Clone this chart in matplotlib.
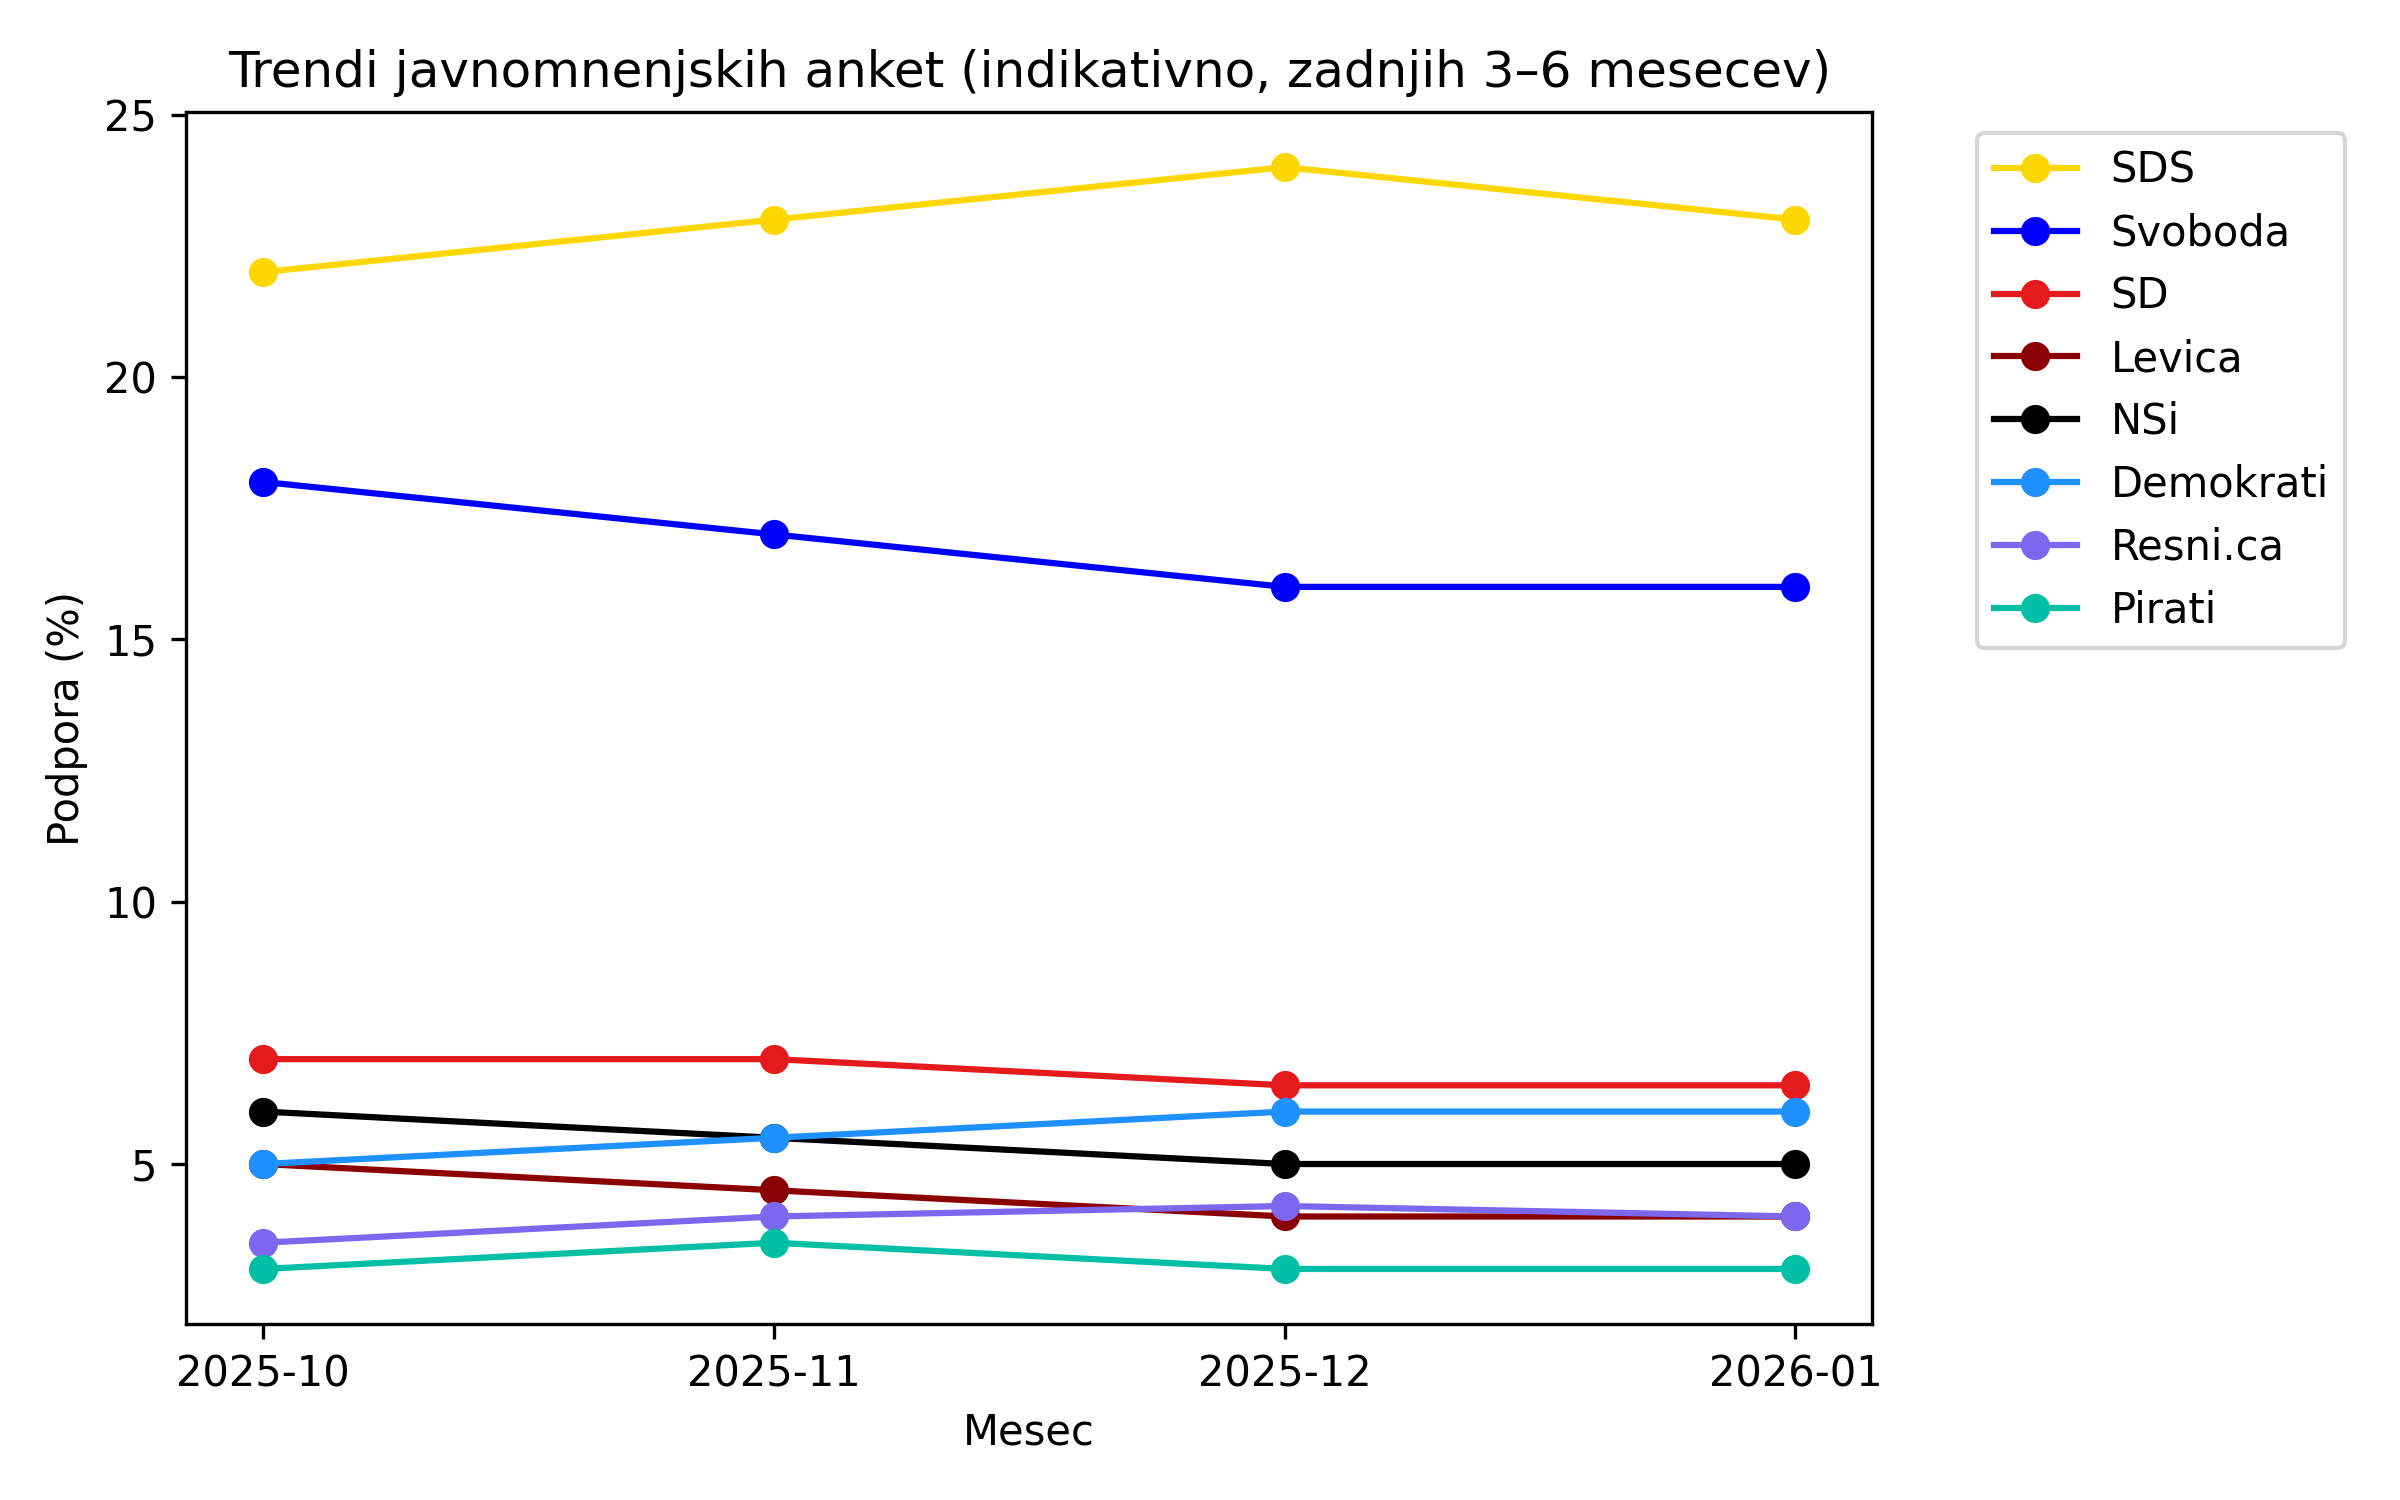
import matplotlib
matplotlib.use("Agg")
import matplotlib.pyplot as plt

months = ["2025-10", "2025-11", "2025-12", "2026-01"]
parties = ["SDS", "Svoboda", "SD", "Levica", "NSi", "Demokrati", "Resni.ca", "Pirati"]
sds = [22, 23, 24, 23]
svoboda = [18, 17, 16, 16]
sd = [7, 7, 6.5, 6.5]
levica = [5, 4.5, 4, 4]
nsi = [6, 5.5, 5, 5]
demokrati = [5, 5.5, 6, 6]
resnica = [3.5, 4, 4.2, 4]
pirati = [3, 3.5, 3, 3]
colors = ["#FFD700", "#0000FF", "#E41A1C", "#8B0000", "#000000", "#1E90FF", "#7B68EE", "#00BFA5"]

series = [sds, svoboda, sd, levica, nsi, demokrati, resnica, pirati]

fig, ax = plt.subplots(figsize=(8, 5), dpi=300)
for name, vals, c in zip(parties, series, colors):
    ax.plot(months, vals, marker="o", color=c, label=name)

ax.set_title("Trendi javnomnenjskih anket (indikativno, zadnjih 3–6 mesecev)")
ax.set_xlabel("Mesec")
ax.set_ylabel("Podpora (%)")
ax.set_yticks([5, 10, 15, 20, 25])
ax.set_ylim(1.95, 25.05)
ax.legend(bbox_to_anchor=(1.05, 1), loc="upper left")
fig.subplots_adjust(left=0.0777, right=0.78, top=0.9253, bottom=0.1173)
fig.savefig("out.png", dpi=300)
